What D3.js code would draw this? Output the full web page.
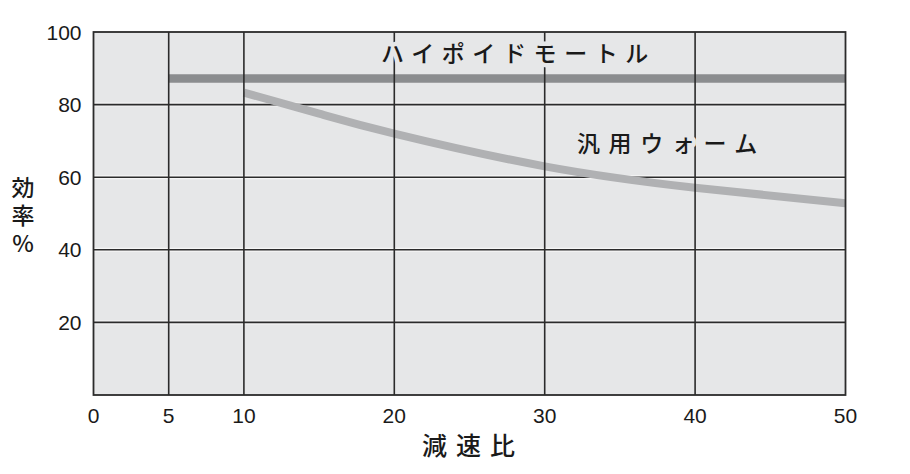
<!DOCTYPE html>
<html>
<head>
<meta charset="utf-8">
<script src="https://cdn.jsdelivr.net/npm/d3@7"></script>
<style>
  body { margin: 0; background: #fff; }
  svg { display: block; }
</style>
</head>
<body>
<svg id="chart" width="910" height="474"></svg>
<script>
// ratio ticks and efficiency ticks
const xTicks = [0, 5, 10, 20, 30, 40, 50]
const yTicks = [20, 40, 60, 80, 100]
// hypoid motor: flat efficiency from ratio 5 to 50
const hypoidRatio = [5, 50]
const hypoidEff = [87.2, 87.2]
// general worm gear: falls with ratio
const wormRatio = [10, 15, 20, 30, 40, 50]
const wormEff = [83.3, 77.5, 72, 63, 57.1, 52.8]
const yTitle = '効率%'

const svg = d3.select('#chart')
const pLeft = 93.5, pRight = 845.5, pTop = 32, pBottom = 395
const bg = '#e6e7e8'
const x = d3.scaleLinear().domain([0, 50]).range([pLeft, pRight])
const y = d3.scaleLinear().domain([0, 100]).range([pBottom, pTop])

svg.append('rect')
    .attr('x', pLeft).attr('y', pTop)
    .attr('width', pRight - pLeft).attr('height', pBottom - pTop)
    .attr('fill', bg)

const gridColor = '#2b2b2b'
const hGrid = yTicks.filter(d => d < 100)
const vGrid = xTicks.filter(d => d > 0 && d < 50)

// horizontal grid under the data lines
const hg = svg.append('g')
hg.selectAll('line.halo').data(hGrid).join('line')
    .attr('x1', pLeft).attr('x2', pRight)
    .attr('y1', d => y(d)).attr('y2', d => y(d))
    .attr('stroke', '#f6f6f6').attr('stroke-width', 4)
hg.selectAll('line.g').data(hGrid).join('line')
    .attr('x1', pLeft).attr('x2', pRight)
    .attr('y1', d => y(d)).attr('y2', d => y(d))
    .attr('stroke', gridColor).attr('stroke-width', 1.6)

const line = d3.line().x(d => x(d[0])).y(d => y(d[1]))

svg.append('path')
    .datum(d3.zip(hypoidRatio, hypoidEff))
    .attr('d', line)
    .attr('fill', 'none').attr('stroke', '#8b8d8f').attr('stroke-width', 8.5)

svg.append('path')
    .datum(d3.zip(wormRatio, wormEff))
    .attr('d', line.curve(d3.curveNatural))
    .attr('fill', 'none').attr('stroke', '#b0b1b3').attr('stroke-width', 8)

// vertical grid drawn over the data lines
svg.append('g').selectAll('line').data(vGrid).join('line')
    .attr('y1', pTop).attr('y2', pBottom)
    .attr('x1', d => x(d)).attr('x2', d => x(d))
    .attr('stroke', gridColor).attr('stroke-width', 1.6)

svg.append('rect')
    .attr('x', pLeft).attr('y', pTop)
    .attr('width', pRight - pLeft).attr('height', pBottom - pTop)
    .attr('fill', 'none').attr('stroke', gridColor).attr('stroke-width', 1.8)

const numFont = '"Liberation Sans", Arial, sans-serif'
const jpFont = '"Noto Sans CJK JP", sans-serif'

svg.append('g').selectAll('text').data(yTicks).join('text')
    .attr('x', pLeft - 12).attr('y', d => y(d) + 7.5)
    .attr('text-anchor', 'end')
    .attr('font-family', numFont).attr('font-size', 21).attr('fill', '#1a1a1a')
    .text(d => d)

svg.append('g').selectAll('text').data(xTicks).join('text')
    .attr('x', d => x(d)).attr('y', 423)
    .attr('text-anchor', 'middle')
    .attr('font-family', numFont).attr('font-size', 21).attr('fill', '#1a1a1a')
    .text(d => d)

// series labels with a halo that cuts the grid lines
const label = (txt, lx, ly, sp) => svg.append('text')
    .attr('x', lx).attr('y', ly)
    .attr('font-family', jpFont).attr('font-size', 23).attr('font-weight', 500)
    .attr('letter-spacing', sp).attr('fill', '#1a1a1a')
    .attr('stroke', bg).attr('stroke-width', 9).attr('paint-order', 'stroke')
    .attr('stroke-linejoin', 'round')
    .text(txt)
label('ハイポイドモートル', 381, 62, 7.6)
label('汎用ウォーム', 577, 152, 8.6)

svg.append('text')
    .attr('x', 422).attr('y', 455)
    .attr('font-family', jpFont).attr('font-size', 25).attr('font-weight', 500)
    .attr('letter-spacing', 9).attr('fill', '#1a1a1a')
    .text('減速比')

// vertical axis title, one text set upright top to bottom
svg.append('text')
    .attr('x', 23).attr('y', 176)
    .attr('font-family', jpFont).attr('font-size', 23).attr('font-weight', 500)
    .attr('fill', '#1a1a1a')
    .style('writing-mode', 'vertical-rl')
    .style('text-orientation', 'upright')
    .attr('letter-spacing', 5)
    .text(yTitle)
</script>
</body>
</html>
